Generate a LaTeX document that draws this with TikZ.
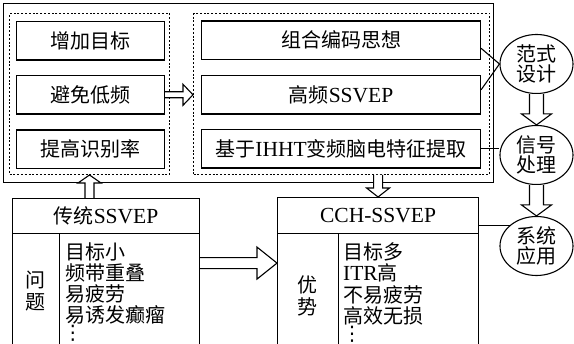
\documentclass[tikz,border=0pt]{standalone}
\usepackage{fontspec}
\setmainfont{Liberation Serif}
\newfontfamily\cjk{Noto Sans CJK SC}
\newfontfamily\symf{DejaVu Sans}
\usetikzlibrary{calc,shapes.geometric}
\newcommand\latn[1]{{\rmfamily\fontsize{21.5}{21}\selectfont #1}}
% hollow block arrows: start, tip, shaft half width, head half width, head length
\newcommand\hollowR[5]{\draw[hollow] ($(#1)+(0,-#3)$) -- ($(#2)+(-#5,-#3)$) -- ($(#2)+(-#5,-#4)$) -- (#2) -- ($(#2)+(-#5,#4)$) -- ($(#2)+(-#5,#3)$) -- ($(#1)+(0,#3)$);}
\newcommand\hollowD[5]{\draw[hollow] ($(#1)+(-#3,0)$) -- ($(#2)+(-#3,-#5)$) -- ($(#2)+(-#4,-#5)$) -- (#2) -- ($(#2)+(#4,-#5)$) -- ($(#2)+(#3,-#5)$) -- ($(#1)+(#3,0)$);}
\newcommand\hollowU[5]{\draw[hollow] ($(#1)+(-#3,0)$) -- ($(#2)+(-#3,#5)$) -- ($(#2)+(-#4,#5)$) -- (#2) -- ($(#2)+(#4,#5)$) -- ($(#2)+(#3,#5)$) -- ($(#1)+(#3,0)$);}
\tikzset{
  box/.style={draw, line width=1.1pt, inner sep=0pt, anchor=north west},
  dotbox/.style={draw, line width=1pt, dash pattern=on 2pt off 1.8pt, inner sep=0pt, anchor=north west},
  ell/.style={draw, ellipse, line width=1.1pt, minimum width=73pt, minimum height=59pt,
    inner sep=0pt, align=center, font=\cjk\fontsize{20}{20.5}\selectfont},
  txt/.style={inner sep=0pt, font=\cjk\fontsize{20}{21}\selectfont},
  dots/.style={inner sep=0pt, anchor=center, font=\symf\fontsize{20}{20}\selectfont},
  hollow/.style={draw, line width=1.1pt, fill=white, line join=miter},
  conn/.style={draw, line width=1.1pt},
}
\begin{document}
\begin{tikzpicture}[x=1pt,y=-1pt]
\useasboundingbox (0,0) rectangle (574,344);
\clip (0,0) rectangle (574,344);
% upper frame
\node[box, minimum width=490, minimum height=179] (outer) at (3,3) {};
\node[dotbox, minimum width=160, minimum height=161] (ldot) at (9,13) {};
\node[dotbox, minimum width=296, minimum height=161] (rdot) at (193,13) {};
% left boxes
\node[box, minimum width=148, minimum height=38.5] (lb1) at (16,21) {};
\node[box, minimum width=148, minimum height=38.5] (lb2) at (16,75) {};
\node[box, minimum width=148, minimum height=38.5] (lb3) at (16,129.5) {};
\node[txt] (lt1) at (lb1) {增加目标};
\node[txt] (lt2) at (lb2) {避免低频};
\node[txt] (lt3) at (lb3) {提高识别率};
% right boxes
\node[box, minimum width=279, minimum height=38.5] (rb1) at (201,20.5) {};
\node[box, minimum width=279, minimum height=38.5] (rb2) at (201,75) {};
\node[box, minimum width=279, minimum height=38.5] (rb3) at (201,129) {};
\node[txt] (rt1) at (rb1) {组合编码思想};
\node[txt] (rt2) at (rb2) {高频\latn{SSVEP}};
\node[txt] (rt3) at (rb3) {基于\latn{IHHT}变频脑电特征提取};
% ellipses
\node[ell] (e1) at (536.5,64) {范式\\设计};
\node[ell] (e2) at (536.5,155) {信号\\处理};
\node[ell] (e3) at (536.5,246) {系统\\应用};
% lower left box
\node[box, minimum width=187, minimum height=35] (tradh) at (12,198) {};
\node[box, minimum width=47, minimum height=117] (tradl) at (12,233) {};
\node[box, minimum width=140, minimum height=117] (tradt) at (59,233) {};
\node[txt] (tradtitle) at (tradh) {传统\latn{SSVEP}};
\node[txt, align=center, font=\cjk\fontsize{20}{22}\selectfont] (tradlab) at (35.5,291) {问\\题};
\node[txt, align=left, anchor=north west] (tradlist) at (65,243) {目标小\\频带重叠\\易疲劳\\易诱发癫瘤};
\node[dots] (tradmore) at (73,333) {⋮};
% lower right box
\node[box, minimum width=201, minimum height=36] (cchh) at (277,197) {};
\node[box, minimum width=61, minimum height=117] (cchl) at (277,233) {};
\node[box, minimum width=140, minimum height=117] (ccht) at (338,233) {};
\node[txt] (cchtitle) at (cchh) {\latn{CCH-SSVEP}};
\node[txt, align=center, font=\cjk\fontsize{20}{22}\selectfont] (cchlab) at (307.5,296) {优\\势};
\node[txt, align=left, anchor=north west, font=\cjk\fontsize{20}{21.6}\selectfont] (cchlist) at (343,242) {目标多\\\latn{ITR}高\\不易疲劳\\高效无损};
\node[dots] (cchmore) at (352,334) {⋮};
% connectors
\draw[conn] ($(rb1.east)+(0,8)$) -- (e1.west);
\draw[conn] ($(rb2.east)+(0,-5)$) -- (e1.west);
\draw[conn] (rb3.east) -- (rb3.east -| e2.west);
\draw[conn] (e3.142 -| cchh.east) -- (e3.142);
% block arrows
\coordinate (t1) at (lb2.east -| rdot.west);
\hollowR{lb2.east}{t1}{3}{10.5}{10}
\coordinate (s2) at (ldot.south |- tradh.north);
\hollowU{s2}{ldot.south}{4.5}{11.5}{8}
\coordinate (s3) at (cchh.north |- rdot.south);
\hollowD{s3}{cchh.north}{4.5}{11.5}{9}
\hollowD{e1.south}{e2.north}{7}{15}{11}
\hollowD{e2.south}{e3.north}{7}{15}{11}
\coordinate (s6) at ($(tradh.south east)+(0,29)$);
\coordinate (t6) at (cchh.west |- s6);
\hollowR{s6}{t6}{5.5}{16}{20}
\end{tikzpicture}
\end{document}
